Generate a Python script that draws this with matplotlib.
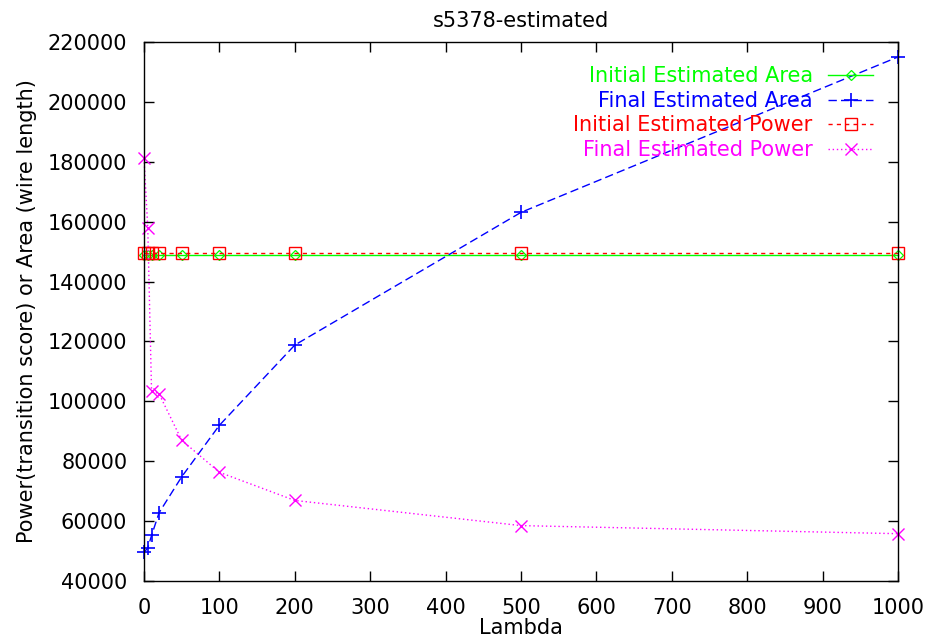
import matplotlib
matplotlib.use("Agg")
import matplotlib.pyplot as plt

plt.rcParams['font.family'] = ['DejaVu Sans']

lam = [0, 5, 10, 20, 50, 100, 200, 500, 1000]
init_area = [148900, 148900, 148900, 148900, 148900, 148900, 148900, 148900, 148900]
final_area = [49600, 51000, 55200, 62800, 74800, 92000, 118800, 163100, 215000]
init_power = [149600, 149600, 149600, 149600, 149600, 149600, 149600, 149600, 149600]
final_power = [181200, 158000, 103500, 102500, 87000, 76300, 66900, 58500, 55800]

xticks = [0, 100, 200, 300, 400, 500, 600, 700, 800, 900, 1000]
yticks = [40000, 60000, 80000, 100000, 120000, 140000, 160000, 180000, 200000, 220000]

fig = plt.figure(figsize=(9.3, 6.44), dpi=100)
ax = fig.add_axes([144/930, 1-581/644, (898-144)/930, (581-42)/644])

ax.plot(lam, init_area, color='#00ff00', lw=1.0, ls='-', marker='D', ms=5,
        mfc='none', mec='#00ff00', mew=0.9, label='Initial Estimated Area', clip_on=False)
ax.plot(lam, final_area, color='#0000ff', lw=1.0, ls=(0, (6, 3)), marker='+', ms=10,
        mew=1.2, label='Final Estimated Area', clip_on=False)
ax.plot(lam, init_power, color='#ff0000', lw=1.0, ls=(0, (3, 3)), marker='s', ms=9,
        mfc='none', mec='#ff0000', mew=1.0, label='Initial Estimated Power', clip_on=False)
ax.plot(lam, final_power, color='#ff00ff', lw=1.0, ls=(0, (1, 2)), marker='x', ms=9,
        mew=1.0, label='Final Estimated Power', clip_on=False)

ax.set_xlim(0, 1000)
ax.set_ylim(40000, 220000)
ax.set_xticks(xticks)
ax.set_yticks(yticks)
ax.set_xticklabels([str(v) for v in xticks])
ax.set_yticklabels([str(v) for v in yticks])
ax.tick_params(direction='in', top=True, right=True, length=7, width=1.0,
               labelsize=15, colors='black')
ax.tick_params(axis='y', pad=12)
ax.tick_params(axis='x', pad=12)
for s in ax.spines.values():
    s.set_linewidth(1.0)

ax.set_title('s5378-estimated', fontsize=15, pad=10.5)
ax.set_xlabel('Lambda', fontsize=15, labelpad=0)
ax.set_ylabel('Power(transition score) or Area (wire length)', fontsize=15, labelpad=8)

leg = ax.legend(loc='upper right', bbox_to_anchor=(0.978, 0.9705), frameon=False,
                markerfirst=False, labelcolor='linecolor', fontsize=15,
                handlelength=2.15, handletextpad=0.75, labelspacing=0.22,
                borderaxespad=0.0)
for t in leg.get_texts():
    t.set_ha('right')

fig.savefig('out.png', dpi=100)
